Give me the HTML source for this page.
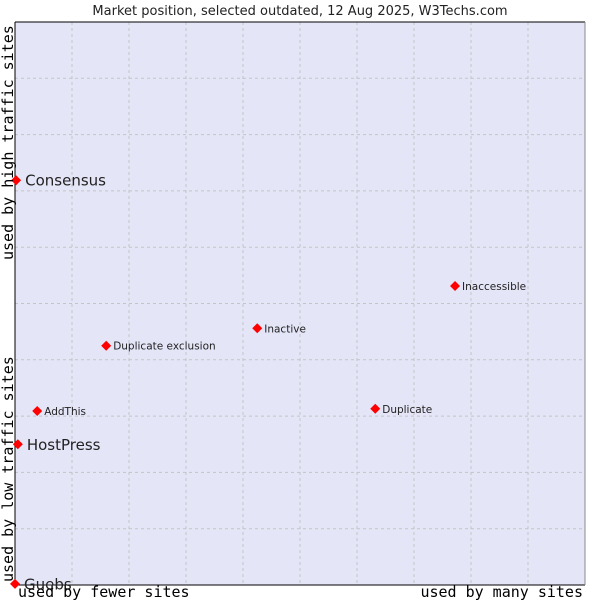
<!DOCTYPE html>
<html><head><meta charset="utf-8"><style>body{margin:0;background:#fff}svg{display:block}</style></head>
<body>
<svg id="chart" width="600" height="600" xmlns="http://www.w3.org/2000/svg" font-family="'DejaVu Sans', 'Liberation Sans', sans-serif">
<text x="300" y="15" font-size="13" text-anchor="middle" fill="#222">Market position, selected outdated, 12 Aug 2025, W3Techs.com</text>
<rect x="15" y="22" width="570" height="563" fill="#e4e6f8"/>
<g id="grid"></g>
<line x1="15" y1="22" x2="585" y2="22" stroke="#000"/>
<line x1="15" y1="22" x2="15" y2="585" stroke="#000"/>
<line x1="15" y1="585" x2="585" y2="585" stroke="#000"/>
<line x1="585" y1="22" x2="585" y2="585" stroke="#888"/>
<g id="points"></g>
<g font-family="'DejaVu Sans Mono','Liberation Mono',monospace" font-size="15" fill="#000">
<text x="18" y="597">used by fewer sites</text>
<text x="583" y="597" text-anchor="end">used by many sites</text>
<text transform="translate(13,260) rotate(-90)">used by high traffic sites</text>
<text transform="translate(13,582) rotate(-90)">used by low traffic sites</text>
</g>
</svg>
<script>
const names=["Consensus","HostPress","Guebs","AddThis","Duplicate exclusion","Inactive","Inaccessible","Duplicate"];
const xVals=[0.2,0.5,0,3.9,16.0,42.5,77.2,63.2];
const yVals=[71.9,25.0,0.2,30.9,42.5,45.6,53.1,31.3];
const big=[true,true,true,false,false,false,false,false];
const gridTicks=[10,20,30,40,50,60,70,80,90];
const NS="http://www.w3.org/2000/svg";
const xs=v=>15+v*5.7, ys=v=>585-v*5.63;
const grid=document.getElementById('grid');
gridTicks.forEach(t=>{
 const a=document.createElementNS(NS,'line');
 
 
 a.setAttribute('x1',xs(t));a.setAttribute('x2',xs(t));a.setAttribute('y1',22);a.setAttribute('y2',585);
 a.setAttribute('stroke','#c4c4c4');a.setAttribute('stroke-dasharray','3,3');grid.appendChild(a);
 const b=document.createElementNS(NS,'line');
 
 
 b.setAttribute('x1',15);b.setAttribute('x2',585);b.setAttribute('y1',ys(t));b.setAttribute('y2',ys(t));
 b.setAttribute('stroke','#c4c4c4');b.setAttribute('stroke-dasharray','3,3');grid.appendChild(b);
});
const pts=document.getElementById('points');
names.forEach((n,i)=>{
 const x=xs(xVals[i]),y=ys(yVals[i]);
 const p=document.createElementNS(NS,'polygon');
 
 
 p.setAttribute('points',`${x},${y-5} ${x+5},${y} ${x},${y+5} ${x-5},${y}`);
 p.setAttribute('fill','#f00');pts.appendChild(p);
 const t=document.createElementNS(NS,'text');
 
 
 t.setAttribute('x',x+(big[i]?9:7));t.setAttribute('y',y+(big[i]?5.5:4));
 t.setAttribute('font-size',big[i]?15:10.5);t.setAttribute('fill','#222');
 t.textContent=n;pts.appendChild(t);
});
</script>
</body></html>
